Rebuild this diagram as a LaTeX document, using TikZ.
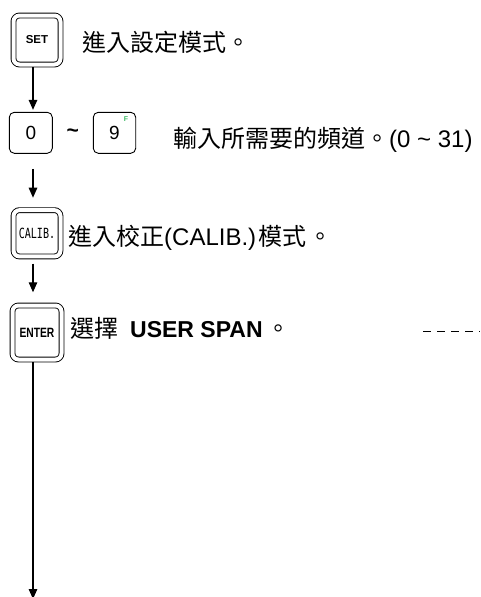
\documentclass[tikz,border=0pt]{standalone}
\usepackage{fontspec}
\usepackage{graphicx}
\setmainfont{Liberation Sans}
\newfontfamily\cjk{Noto Sans CJK TC}
\newfontfamily\monof{DejaVu Sans Mono}
\usetikzlibrary{arrows.meta}
\definecolor{keyF}{RGB}{60,185,100}
\tikzset{
  dkey/.style={draw, double, double distance=4pt, line width=0.9pt, rounded corners=6pt, inner sep=0pt},
  skey/.style={draw, line width=0.9pt, rounded corners=5pt, inner sep=0pt, minimum width=43pt, minimum height=41pt},
  arr/.style={line width=1.3pt, -{Triangle[length=10pt,width=8.5pt]}},
  txt/.style={anchor=base west, inner sep=0pt, font=\fontsize{24}{28}\selectfont},
  dashln/.style={line width=1.4pt, dash pattern=on 8pt off 6pt}
}
\begin{document}
\begin{tikzpicture}[x=1pt,y=-1pt]
\useasboundingbox (0,0) rectangle (480,597);
\coordinate (axis) at (33,0);
% keys
\node[dkey, minimum width=47pt, minimum height=49pt] (set) at (37,40)
  {\fontsize{11.5}{12}\selectfont\bfseries SET};
\node[skey] (zero) at (30.8,132.8) {\fontsize{19}{20}\selectfont 0};
\node[inner sep=0pt] (tilde) at (72.7,133) {\fontsize{21}{22}\selectfont\bfseries \char`~};
\node[skey, minimum width=42.4pt] (nine) at (114.5,132.8) {\fontsize{19}{20}\selectfont 9};
\node[inner sep=0pt, text=keyF] (f) at (126,119) {\fontsize{7}{8}\selectfont\bfseries F};
\node[dkey, minimum width=47pt, minimum height=46.3pt] (calib) at (37,233.3)
  {\scalebox{0.72}[1]{\monof\fontsize{14}{15}\selectfont CALIB.}};
\node[dkey, minimum width=49pt, minimum height=54pt] (enter) at (37,332.5)
  {\scalebox{0.76}[1]{\fontsize{13.5}{14}\selectfont\bfseries ENTER}};
\coordinate (bot) at (33,599);
% texts
\node[txt] (t1) at (82,51) {\cjk 進入設定模式。};
\node[txt] (t2) at (173,147) {{\cjk 輸入所需要的頻道。}(0 \char`~{} 31)};
\node[txt] (t3) at (68,245) {{\cjk 進入校正}(CALIB.)\hspace{2pt}{\cjk 模式}\hspace{2pt}{\cjk 。}};
\node[txt] (t4) at (70,337) {{\cjk 選擇}\hspace{12pt}{\fontsize{23}{28}\selectfont\bfseries USER SPAN}\hspace{4pt}{\cjk 。}};
% connectors
\draw[arr, shorten <=2.5pt, shorten >=2pt] (set.south -| axis) -- (zero.north -| axis);
\draw[arr, shorten <=15pt, shorten >=12pt] (zero.south -| axis) -- (calib.north -| axis);
\draw[arr, shorten <=6.6pt, shorten >=12.8pt] (calib.south -| axis) -- (enter.north -| axis);
\draw[arr, shorten <=2.5pt] (enter.south -| axis) -- (bot);
\coordinate (dA) at (423,331.7);
\coordinate (dB) at (480,331.7);
\draw[dashln] (dA) -- (dB);
\end{tikzpicture}
\end{document}
